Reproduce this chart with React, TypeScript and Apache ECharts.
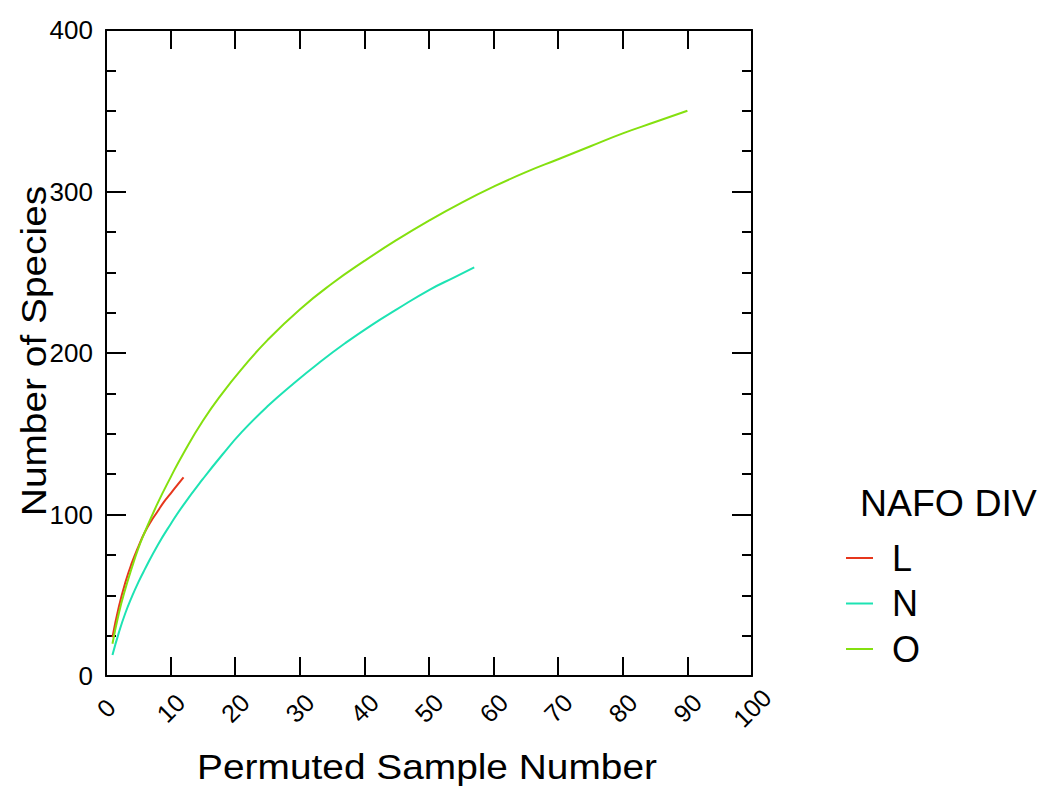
import React, { useEffect, useRef } from "react";
import * as echarts from "echarts";

const FONT = "'Liberation Sans', Arial, Helvetica, sans-serif";

const xTitle = "Permuted Sample Number";
const yTitle = "Number of Species";
const legendTitle = "NAFO DIV";

const seriesNames = ["L", "N", "O"];
const seriesColors = ["#e6361c", "#1de3b3", "#84e00f"];

const sampleL = [1, 2, 3, 4, 5, 6, 7, 8, 9, 10, 11, 12];
const speciesL = [24, 43, 58, 70, 80, 89, 96, 102, 108, 113, 118, 123];

const sampleN = [1, 2, 3, 4, 5, 6, 8, 10, 12, 15, 18, 21, 25, 29, 33, 37, 41, 45, 50, 54, 57];
const speciesN = [13, 27, 39, 49, 58, 66, 81, 94, 106, 122, 137, 151, 167, 181, 194, 206, 217, 227, 239, 247, 253];

const sampleO = [1, 2, 3, 4, 5, 6, 8, 10, 12, 15, 18, 21, 25, 30, 35, 40, 45, 50, 55, 60, 65, 70, 75, 80, 85, 90];
const speciesO = [20, 39, 54, 67, 79, 89, 107, 123, 138, 158, 175, 190, 208, 227, 243, 257, 270, 282, 293, 303, 312, 320, 328, 336, 343, 350];

const xMin = 0;
const xMax = 100;
const xStep = 10;
const yMin = 0;
const yMax = 400;
const yStep = 100;

const zip = (xs: number[], ys: number[]) => xs.map((x, i) => [x, ys[i]]);

export default function App() {
  const ref = useRef<HTMLDivElement>(null);

  useEffect(() => {
    if (!ref.current) return;
    const chart = echarts.init(ref.current, null, { renderer: "svg" });

    const axisLine = { show: true, onZero: false, lineStyle: { color: "#000", width: 2 } };
    const axisTick = { show: true, inside: true, length: 19, lineStyle: { color: "#000", width: 2 } };

    const xBase = {
      type: "value" as const,
      min: xMin,
      max: xMax,
      interval: xStep,
      axisLine,
      axisTick,
      splitLine: { show: false },
    };
    const yBase = {
      type: "value" as const,
      min: yMin,
      max: yMax,
      interval: yStep,
      axisLine,
      axisTick: { ...axisTick, length: 20 },
      minorTick: { show: true, splitNumber: 4, length: 10, lineStyle: { color: "#000", width: 2 } },
      splitLine: { show: false },
      minorSplitLine: { show: false },
    };

    const datasets = [zip(sampleL, speciesL), zip(sampleN, speciesN), zip(sampleO, speciesO)];

    chart.setOption({
      animation: false,
      backgroundColor: "#fff",
      grid: { left: 106, right: 292, top: 30, bottom: 116 },
      xAxis: [
        {
          ...xBase,
          position: "bottom",
          axisLabel: {
            rotate: 45,
            align: "center",
            verticalAlign: "middle",
            margin: 32,
            fontSize: 25,
            color: "#000",
            fontFamily: FONT,
          },
        },
        { ...xBase, position: "top", axisLabel: { show: false } },
      ],
      yAxis: [
        {
          ...yBase,
          position: "left",
          axisLabel: { margin: 13, fontSize: 26, color: "#000", fontFamily: FONT },
        },
        { ...yBase, position: "right", axisLabel: { show: false } },
      ],
      legend: {
        data: seriesNames,
        orient: "vertical",
        left: 846,
        top: 540,
        padding: 0,
        itemGap: 9.5,
        itemWidth: 27,
        itemHeight: 2,
        icon: "rect",
        textStyle: {
          fontSize: 36,
          lineHeight: 36,
          color: "#000",
          fontFamily: FONT,
          padding: [0, 0, 0, 14],
        },
      },
      series: seriesNames.map((name, i) => ({
        name,
        type: "line",
        xAxisIndex: 0,
        yAxisIndex: 0,
        data: datasets[i],
        smooth: 0.5,
        showSymbol: false,
        symbol: "none",
        color: seriesColors[i],
        lineStyle: { width: 2, color: seriesColors[i] },
      })),
      graphic: [
        {
          type: "text",
          x: 427,
          y: 767,
          scaleX: 1.11,
          style: {
            text: xTitle,
            font: `35px ${FONT}`,
            fill: "#000",
            textAlign: "center",
            textVerticalAlign: "middle",
          },
        },
        {
          type: "text",
          x: 34,
          y: 351,
          rotation: Math.PI / 2,
          scaleX: 1.11,
          style: {
            text: yTitle,
            font: `35px ${FONT}`,
            fill: "#000",
            textAlign: "center",
            textVerticalAlign: "middle",
          },
        },
        {
          type: "text",
          x: 860,
          y: 504,
          scaleX: 1.04,
          style: {
            text: legendTitle,
            font: `36px ${FONT}`,
            fill: "#000",
            textAlign: "left",
            textVerticalAlign: "middle",
          },
        },
      ],
    });

    return () => chart.dispose();
  }, []);

  return (
    <div
      ref={ref}
      style={{ position: "fixed", left: 0, top: 0, width: 1044, height: 792, background: "#fff" }}
    />
  );
}
